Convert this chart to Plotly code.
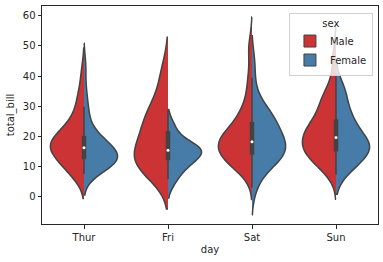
import numpy as np
import plotly.graph_objects as go

days = ["Thur", "Fri", "Sat", "Sun"]
sexes = ["Male", "Female"]

# total_bill values (tips dataset), grouped by day and sex
thur_male = [27.2, 22.76, 17.29, 19.44, 16.66, 32.68, 15.98, 13.03, 18.28, 24.71, 21.16,
             11.69, 14.26, 15.95, 8.52, 22.82, 19.08, 16.0, 34.3, 41.19, 9.78, 7.51,
             28.44, 15.48, 16.58, 7.56, 10.34, 13.51, 18.71, 20.53]
thur_female = [10.07, 34.83, 10.65, 12.43, 24.08, 13.42, 12.48, 29.8, 14.52, 11.38, 20.27,
               11.17, 12.26, 18.26, 8.51, 10.33, 14.15, 13.16, 17.47, 27.05, 16.43, 8.35,
               18.64, 11.87, 19.81, 43.11, 13.0, 12.74, 13.0, 16.4, 16.47, 18.78]
fri_male = [28.97, 22.49, 40.17, 27.28, 12.03, 21.01, 12.46, 12.16, 8.58, 13.42]
fri_female = [5.75, 16.32, 22.75, 11.35, 15.38, 13.42, 15.98, 16.27, 10.09]
sat_male = [20.65, 17.92, 39.42, 19.82, 17.81, 13.37, 12.69, 21.7, 9.55, 18.35, 17.78,
            24.06, 16.31, 18.69, 31.27, 16.04, 38.01, 11.24, 48.27, 20.29, 13.81, 11.02,
            18.29, 17.59, 20.08, 20.23, 15.01, 12.02, 10.51, 17.92, 15.36, 20.49, 25.21,
            18.24, 14.0, 50.81, 15.81, 26.59, 38.73, 24.27, 30.06, 25.89, 48.33, 28.15,
            11.59, 7.74, 20.45, 13.28, 24.01, 15.69, 11.61, 10.77, 15.53, 10.07, 12.6,
            32.83, 29.03, 22.67, 17.82]
sat_female = [20.29, 15.77, 19.65, 15.06, 20.69, 16.93, 26.41, 16.45, 3.07, 17.07, 26.86,
              25.28, 14.73, 44.3, 22.42, 20.92, 14.31, 7.25, 10.59, 10.63, 12.76, 13.27,
              28.17, 12.9, 30.14, 22.12, 35.83, 27.18]
sun_male = [10.34, 21.01, 23.68, 25.29, 8.77, 26.88, 15.04, 14.78, 10.27, 15.42, 18.43,
            21.58, 16.29, 17.46, 13.94, 9.68, 30.4, 18.29, 22.23, 32.4, 28.55, 18.04,
            12.54, 9.94, 25.56, 19.49, 38.07, 23.95, 29.93, 14.07, 13.13, 17.26, 24.55,
            19.77, 48.17, 16.49, 21.5, 12.66, 13.81, 24.52, 20.76, 31.71, 7.25, 31.85,
            16.82, 32.9, 17.89, 14.48, 34.63, 34.65, 23.33, 45.35, 23.17, 40.55, 20.69,
            30.46, 23.1, 15.69]
sun_female = [16.99, 24.59, 35.26, 14.83, 10.33, 16.97, 10.29, 34.81, 25.71, 17.31, 29.85,
              25.0, 13.39, 16.21, 17.51, 9.6, 20.9, 18.15]

data = {
    ("Thur", "Male"): thur_male, ("Thur", "Female"): thur_female,
    ("Fri", "Male"): fri_male, ("Fri", "Female"): fri_female,
    ("Sat", "Male"): sat_male, ("Sat", "Female"): sat_female,
    ("Sun", "Male"): sun_male, ("Sun", "Female"): sun_female,
}

colors = {"Male": "#cb3335", "Female": "#477ca8"}
sides = {"Male": "negative", "Female": "positive"}
gray = "#434343"
text_color = "#262626"

fig = go.Figure()
for day in days:
    for sex in sexes:
        vals = np.asarray(data[(day, sex)], dtype=float)
        bw = vals.std(ddof=1) * len(vals) ** (-0.2)  # Scott's rule
        fig.add_trace(go.Violin(
            x=[day] * len(vals), y=vals, name=sex, legendgroup=sex,
            side=sides[sex], scalegroup=day, scalemode="width", width=0.8,
            bandwidth=bw, spanmode="soft", points=False,
            fillcolor=colors[sex], opacity=1,
            line=dict(color=gray, width=1.5),
            box=dict(visible=False), meanline=dict(visible=False),
            showlegend=False, hoverinfo="skip",
        ))

# inner box (combined per day)
for day in days:
    vals = np.asarray(data[(day, "Male")] + data[(day, "Female")], dtype=float)
    q1, q2, q3 = np.percentile(vals, [25, 50, 75])
    lim = 1.5 * (q3 - q1)
    h1 = vals[vals >= q1 - lim].min()
    h2 = vals[vals <= q3 + lim].max()
    fig.add_trace(go.Scatter(x=[day, day], y=[h1, h2], mode="lines",
                             line=dict(color=gray, width=1.5), showlegend=False, hoverinfo="skip"))
    fig.add_trace(go.Scatter(x=[day, day], y=[q1, q3], mode="lines",
                             line=dict(color=gray, width=4.5), showlegend=False, hoverinfo="skip"))
    fig.add_trace(go.Scatter(x=[day], y=[q2], mode="markers",
                             marker=dict(color="white", size=3, line=dict(width=0)),
                             showlegend=False, hoverinfo="skip"))

for sex in sexes:
    fig.add_trace(go.Bar(x=[None], y=[None], name=sex,
                         marker=dict(color=colors[sex], line=dict(color=gray, width=1)),
                         showlegend=True))

font = "DejaVu Sans"
axis_common = dict(
    showline=True, linecolor=text_color, linewidth=1, mirror=True,
    ticks="outside", ticklen=3.5, tickwidth=1, tickcolor=text_color,
    showgrid=False, zeroline=False,
    tickfont=dict(family=font, size=10, color=text_color),
)
fig.update_layout(
    template="none",
    width=383, height=262,
    margin=dict(l=42, r=5, t=6, b=38),
    plot_bgcolor="white", paper_bgcolor="white",
    violinmode="overlay", violingap=0,
    font=dict(family=font, size=10, color=text_color),
    showlegend=True,
    legend=dict(
        title=dict(text="sex", side="top center", font=dict(family=font, size=10, color=text_color)),
        x=0.985, y=0.97, xanchor="right", yanchor="top",
        bgcolor="rgba(255,255,255,0.8)", bordercolor="#d0d0d0", borderwidth=1,
        font=dict(family=font, size=10, color=text_color), tracegroupgap=0,
    ),
    xaxis=dict(
        categoryorder="array", categoryarray=days, range=[-0.5, 3.5],
        title=dict(text="day", standoff=4, font=dict(family=font, size=10, color=text_color)),
        **axis_common,
    ),
    yaxis=dict(
        range=[-9.05, 63.2], tickvals=[0, 10, 20, 30, 40, 50, 60],
        title=dict(text="total_bill", standoff=6, font=dict(family=font, size=10, color=text_color)),
        **axis_common,
    ),
)

fig.write_html("out.html")
